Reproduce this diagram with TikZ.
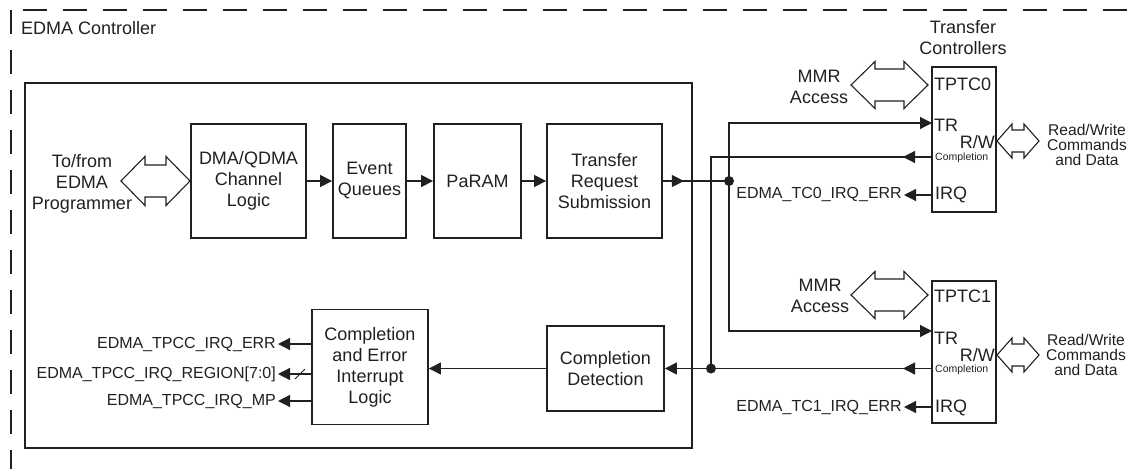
\documentclass[tikz,border=0pt]{standalone}
\usepackage{fontspec}
\setmainfont{Liberation Sans}
\usetikzlibrary{arrows.meta,decorations.markings}

\definecolor{ink}{RGB}{35,31,32}
\newcommand\blkfont{\fontsize{18}{21}\selectfont}
\newcommand\sigfont{\fontsize{16}{19}\selectfont}
\newcommand\rwfont{\fontsize{15.6}{15}\selectfont}
\newcommand\tinyfont{\fontsize{10.5}{12}\selectfont}

% wide two-headed bus arrow: left tip x, right tip x, centre y, head length, head half-width, shaft half-width
\newcommand\busarrow[6]{%
  \draw[busline] (#1,#3) -- (#1+#4,#3-#5) -- (#1+#4,#3-#6) -- (#2-#4,#3-#6)
    -- (#2-#4,#3-#5) -- (#2,#3) -- (#2-#4,#3+#5) -- (#2-#4,#3+#6)
    -- (#1+#4,#3+#6) -- (#1+#4,#3+#5) -- cycle;}

\tikzset{
  blk/.style={draw=ink, line width=1.8pt, align=center, font=\blkfont, text=ink, inner sep=1pt},
  conn/.style={draw=ink, line width=1.2pt},
  tip/.style={-{Triangle[length=12pt,width=12pt]}},
  midtip/.style={postaction={decorate}, decoration={markings,
      mark=at position #1 with {\arrow{Triangle[length=12pt,width=12pt]}}}},
  busline/.style={draw=ink, line width=1.1pt, fill=white, line join=miter},
  sig/.style={font=\sigfont, text=ink, inner sep=2pt},
  lbl/.style={font=\blkfont, text=ink, align=center, inner sep=0pt},
  port/.style={text=ink, inner sep=0pt},
  outline/.style={draw=ink, line width=1.2pt, dash pattern=on 24pt off 16pt},
}

\begin{document}
\begin{tikzpicture}[x=1pt, y=-1pt]
\useasboundingbox (0,0) rectangle (1128,469);

% dashed outline of the controller
\draw[outline] (11,10) -- (11,469);
\draw[outline] (23,10) -- (1128,10);
\node[lbl, anchor=west] (title) at (21,28) {EDMA Controller};

% channel controller body
\node[draw=ink, line width=1.8pt, minimum width=667pt, minimum height=365pt, inner sep=0pt] (core) at (358.5,265.5) {};

% processing chain
\node[blk, minimum width=115pt, minimum height=114pt] (dma) at (248.5,181) {DMA/QDMA\\Channel\\Logic};
\node[blk, minimum width=73pt, minimum height=114pt] (evq) at (369.5,181) {Event\\Queues};
\node[blk, minimum width=87pt, minimum height=114pt] (param) at (477.5,181) {PaRAM};
\node[blk, minimum width=115pt, minimum height=114pt] (trs) at (604.5,181) {Transfer\\Request\\Submission};
\node[blk, minimum width=116pt, minimum height=115pt] (ce) at (370,367) {Completion\\and Error\\Interrupt\\Logic};
\node[blk, minimum width=117pt, minimum height=85pt] (cd) at (605.5,368.5) {Completion\\Detection};

\draw[conn, tip] (dma) -- (evq);
\draw[conn, tip] (evq) -- (param);
\draw[conn, tip] (param) -- (trs);

% programmer port
\node[lbl] (prog) at (82,184) {To/from\\EDMA\\Programmer};
\busarrow{121}{190}{181}{24}{24.5}{16}

% transfer controllers
\node[lbl] (tctitle) at (963,38) {Transfer\\Controllers};
\node[draw=ink, line width=1.8pt, minimum width=64pt, minimum height=145pt, inner sep=0pt] (tptc0) at (964,139.5) {};
\node[draw=ink, line width=1.8pt, minimum width=64pt, minimum height=142pt, inner sep=0pt] (tptc1) at (964,352) {};

\node[port, font=\blkfont, anchor=west] (n0) at (934,84) {TPTC0};
\node[port, font=\blkfont, anchor=west] (tr0l) at (934,125) {TR};
\node[port, font=\blkfont, anchor=east] (rw0l) at (995,142) {R/W};
\node[port, font=\tinyfont, anchor=west] (cp0l) at (935,158) {Completion};
\node[port, font=\blkfont, anchor=west] (irq0l) at (935,195) {IRQ};

\node[port, font=\blkfont, anchor=west] (n1) at (934,296) {TPTC1};
\node[port, font=\blkfont, anchor=west] (tr1l) at (934,338) {TR};
\node[port, font=\blkfont, anchor=east] (rw1l) at (995,355) {R/W};
\node[port, font=\tinyfont, anchor=west] (cp1l) at (935,370) {Completion};
\node[port, font=\blkfont, anchor=west] (irq1l) at (935,408) {IRQ};

% register access ports
\node[lbl] (mmr0) at (819,87) {MMR\\Access};
\busarrow{851}{928}{85}{24}{23.5}{16}
\node[lbl] (mmr1) at (820,296) {MMR\\Access};
\busarrow{851}{928}{295}{24}{23.5}{16}

% read/write data ports
\node[font=\rwfont, text=ink, align=center, inner sep=0pt] (rwd0) at (1087,145) {Read/Write\\Commands\\and Data};
\busarrow{997}{1039}{141}{15}{17}{11}
\node[font=\rwfont, text=ink, align=center, inner sep=0pt] (rwd1) at (1086,355) {Read/Write\\Commands\\and Data};
\busarrow{997}{1039}{355}{15}{17}{11}

% transfer request bus
\coordinate (j0) at (729,181);
\coordinate (tr0) at (932,123);
\coordinate (tr1) at (932,331);
\draw[conn, midtip=21pt] (trs.east) -- (j0);
\draw[conn, tip] (j0) |- (tr0);
\draw[conn, tip] (j0) |- (tr1);
\fill[ink] (j0) circle (5pt);

% completion bus
\coordinate (j1) at (711,368.5);
\coordinate (cp0) at (932,157);
\coordinate (cp1) at (932,368.5);
\draw[conn, midtip=29pt] (cp0) -| (j1);
\draw[conn, midtip=29pt, tip] (cp1) -- (cd.east);
\fill[ink] (j1) circle (5pt);
\draw[conn, tip] (cd.west) -- (ce.east |- cd.west);

% transfer controller error interrupts
\node[sig, anchor=east] (tc0err) at (904,195) {EDMA\_TC0\_IRQ\_ERR};
\node[sig, anchor=east] (tc1err) at (904,407) {EDMA\_TC1\_IRQ\_ERR};
\draw[conn, tip] (tptc0.west |- tc0err.east) -- (tc0err.east);
\draw[conn, tip] (tptc1.west |- tc1err.east) -- (tc1err.east);

% channel controller interrupt outputs
\node[sig, anchor=east] (ierr) at (278,344) {EDMA\_TPCC\_IRQ\_ERR};
\node[sig, anchor=east] (ireg) at (278,374) {EDMA\_TPCC\_IRQ\_REGION[7:0]};
\node[sig, anchor=east] (imp) at (278,401) {EDMA\_TPCC\_IRQ\_MP};
\draw[conn, tip] (ce.west |- ierr.east) -- (ierr.east);
\draw[conn, tip] (ce.west |- ireg.east) -- (ireg.east);
\draw[conn, tip] (ce.west |- imp.east) -- (imp.east);
\draw[draw=ink, line width=1pt] (295,379) -- (305,369);
\end{tikzpicture}
\end{document}
